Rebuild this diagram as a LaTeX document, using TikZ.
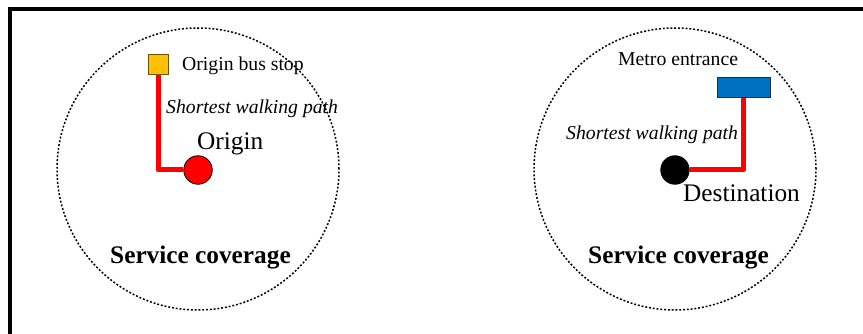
\documentclass[tikz,border=0pt]{standalone}
\usepackage{fontspec}
\setmainfont{Liberation Serif}
\usetikzlibrary{backgrounds}
\definecolor{stopgold}{RGB}{255,192,0}
\definecolor{stopedge}{RGB}{110,80,0}
\definecolor{metroblue}{RGB}{0,112,192}
\definecolor{metroedge}{RGB}{30,45,70}
\begin{document}
\begin{tikzpicture}[x=1pt,y=-1pt,
  smalltxt/.style={font=\fontsize{19.7}{22}\selectfont, inner sep=0pt, anchor=base west},
  bigtxt/.style={font=\fontsize{25.3}{28}\selectfont, inner sep=0pt, anchor=base west},
  coverage/.style={draw, dash pattern=on 1.9pt off 1.9pt, line width=1.5pt, circle, minimum size=282pt, inner sep=0pt},
  walk/.style={draw=red, line width=5pt, line join=round},
  stopbox/.style={draw=stopedge, fill=stopgold, line width=0.8pt, minimum size=20pt, inner sep=0pt},
  metrobox/.style={draw=metroedge, fill=metroblue, line width=0.8pt, minimum width=53pt, minimum height=20pt, inner sep=0pt},
  place/.style={circle, draw=black, line width=0.8pt, inner sep=0pt, minimum size=28.5pt},
]
\useasboundingbox (0,0) rectangle (863,334);
\coordinate (fb) at (10,334);
\coordinate (fc) at (10,9);
\coordinate (fr) at (863,9);
\draw[line width=4pt] (fb) -- (fc) -- (fr);

\node[coverage] (covL) at (198,169) {};
\node[coverage] (covR) at (675,169) {};

\node[stopbox] (busstop) at (158,64) {};
\node[place, fill=red] (origin) at (198,170) {};
\node[metrobox] (metro) at (743.5,87) {};
\node[place, fill=black] (dest) at (675,170) {};

\begin{scope}[on background layer]
\draw[walk] (busstop.south) |- (origin.west);
\draw[walk] (metro.south) |- (dest.east);
\end{scope}

\node[smalltxt] (lbus) at (182,70.5) {Origin bus stop};
\node[smalltxt, font=\fontsize{19.7}{22}\selectfont\itshape] (lwalkL) at (166,114) {Shortest walking path};
\node[bigtxt] (lorigin) at (197,150) {Origin};
\node[bigtxt, font=\fontsize{25.3}{28}\selectfont\bfseries] (lcovL) at (110,263.3) {Service coverage};

\node[smalltxt] (lmetro) at (618,66) {Metro entrance};
\node[smalltxt, font=\fontsize{19.7}{22}\selectfont\itshape] (lwalkR) at (566,139.3) {Shortest walking path};
\node[bigtxt] (ldest) at (683,201.7) {Destination};
\node[bigtxt, font=\fontsize{25.3}{28}\selectfont\bfseries] (lcovR) at (588,263.3) {Service coverage};
\end{tikzpicture}
\end{document}
